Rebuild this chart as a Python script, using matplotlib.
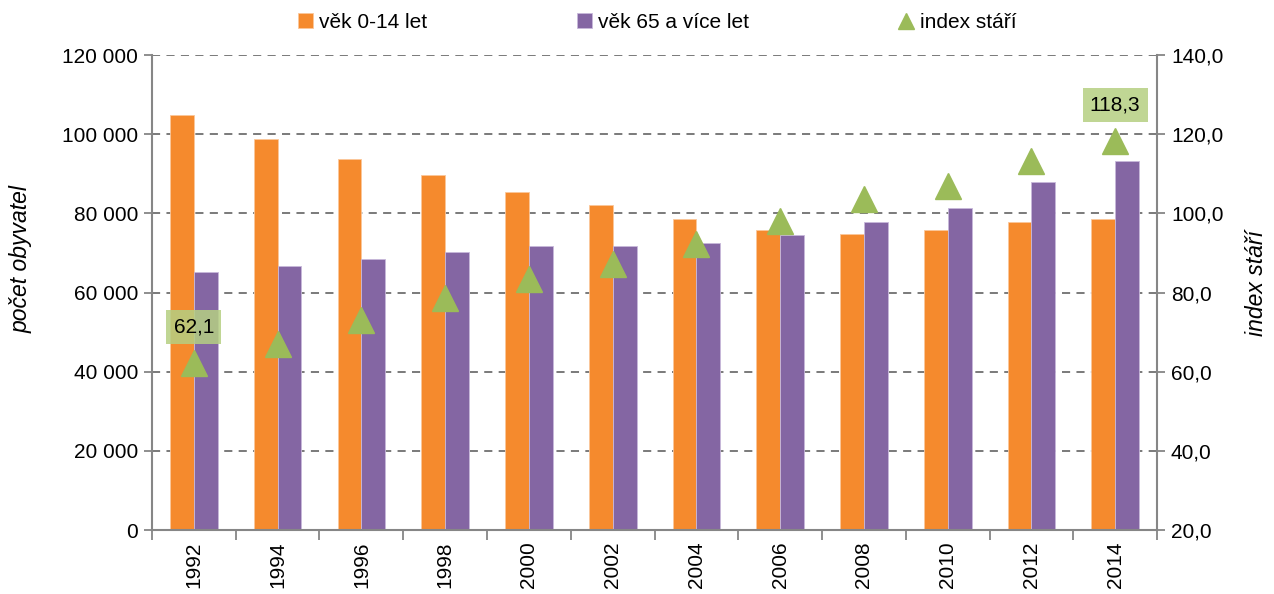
import matplotlib

matplotlib.use("Agg")

import matplotlib.pyplot as plt  # noqa: E402
from matplotlib.ticker import FuncFormatter, MultipleLocator  # noqa: E402

plt.rcParams["font.family"] = ["Liberation Sans", "DejaVu Sans"]

years = ["1992", "1994", "1996", "1998", "2000", "2002",
         "2004", "2006", "2008", "2010", "2012", "2014"]
age_0_14 = [104800, 98800, 93700, 89700, 85400, 82100,
            78600, 75800, 74900, 75800, 77700, 78600]
age_65 = [65200, 66700, 68500, 70200, 71700, 71700,
          72500, 74500, 77800, 81400, 87800, 93200]
index_stari = [62.1, 67.1, 73.1, 78.5, 83.4, 87.3,
               92.3, 98.1, 103.6, 107.0, 113.1, 118.3]
labelled = {0: "62,1", 11: "118,3"}

ORANGE = "#F58A2D"
PURPLE = "#8466A3"
GREEN = "#9BBB59"
AXIS_GREY = "#868686"
FS = 15

fig = plt.figure(figsize=(12.74, 5.94), dpi=100)
ax = fig.add_axes([0.1193, 0.1077, 0.7889, 0.7997])

x = list(range(len(years)))
w = 0.285
b1 = ax.bar([i - w / 2 for i in x], age_0_14, width=w, color=ORANGE,
            edgecolor="#FBC79A", linewidth=0.6, label="věk 0-14 let")
b2 = ax.bar([i + w / 2 for i in x], age_65, width=w, color=PURPLE,
            edgecolor="#C8B8DA", linewidth=0.6, label="věk 65 a více let")

ax.set_xlim(-0.5, len(years) - 0.5)
ax.set_ylim(0, 120000)
ax.yaxis.set_major_locator(MultipleLocator(20000))
ax.yaxis.set_major_formatter(
    FuncFormatter(lambda v, _p: f"{int(v):,}".replace(",", " ")))
ax.set_axisbelow(True)
ax.yaxis.grid(True, color="#6f6f6f", linestyle=(0, (4.5, 3.5)), linewidth=1.3)

# tick marks at category boundaries, labels at centres
ax.set_xticks([i - 0.5 for i in range(len(years) + 1)])
ax.set_xticklabels([])
ax.set_xticks(x, minor=True)
ax.set_xticklabels(years, minor=True, rotation=90, fontsize=FS)
ax.tick_params(axis="x", which="major", length=7, color=AXIS_GREY, width=1.3)
ax.tick_params(axis="x", which="minor", length=0, pad=8)
ax.tick_params(axis="y", length=6, color=AXIS_GREY, width=1.3, labelsize=FS, pad=4)

for side in ("top", "right"):
    ax.spines[side].set_visible(False)
for side in ("left", "bottom"):
    ax.spines[side].set_color(AXIS_GREY)
    ax.spines[side].set_linewidth(1.5)

ax.set_ylabel("počet obyvatel", fontsize=16.5, style="italic")
ax.yaxis.set_label_coords(-0.119, 0.57)

ax2 = ax.twinx()
ax2.set_ylim(20, 140)
ax2.yaxis.set_major_locator(MultipleLocator(20))
ax2.yaxis.set_major_formatter(FuncFormatter(lambda v, _p: f"{v:.1f}".replace(".", ",")))
ln, = ax2.plot(x, index_stari, linestyle="none", marker="^", markersize=19,
               color=GREEN, label="index stáří")
for side in ("top", "left", "bottom"):
    ax2.spines[side].set_visible(False)
ax2.spines["right"].set_color(AXIS_GREY)
ax2.spines["right"].set_linewidth(1.5)
ax2.tick_params(axis="y", length=6, color=AXIS_GREY, width=1.3, labelsize=FS, pad=4)
ax2.set_ylabel("index stáří", fontsize=16.5, style="italic")
ax2.yaxis.set_label_coords(1.088, 0.52)

for i, txt in labelled.items():
    ax2.annotate(txt, (x[i], index_stari[i]), xytext=(0, 26),
                 textcoords="offset points", ha="center", va="center",
                 fontsize=FS,
                 bbox=dict(boxstyle="square,pad=0.35", fc="#B5CF82",
                           ec="none", alpha=0.85))

fig.legend([b1, b2, ln], ["věk 0-14 let", "věk 65 a více let", "index stáří"],
           loc="center", bbox_to_anchor=(0.516, 0.962), ncol=3, frameon=False,
           fontsize=FS, handlelength=0.7, handleheight=0.7, handletextpad=0.3,
           columnspacing=7.2, markerscale=0.6)

fig.savefig("out.png", dpi=100)
